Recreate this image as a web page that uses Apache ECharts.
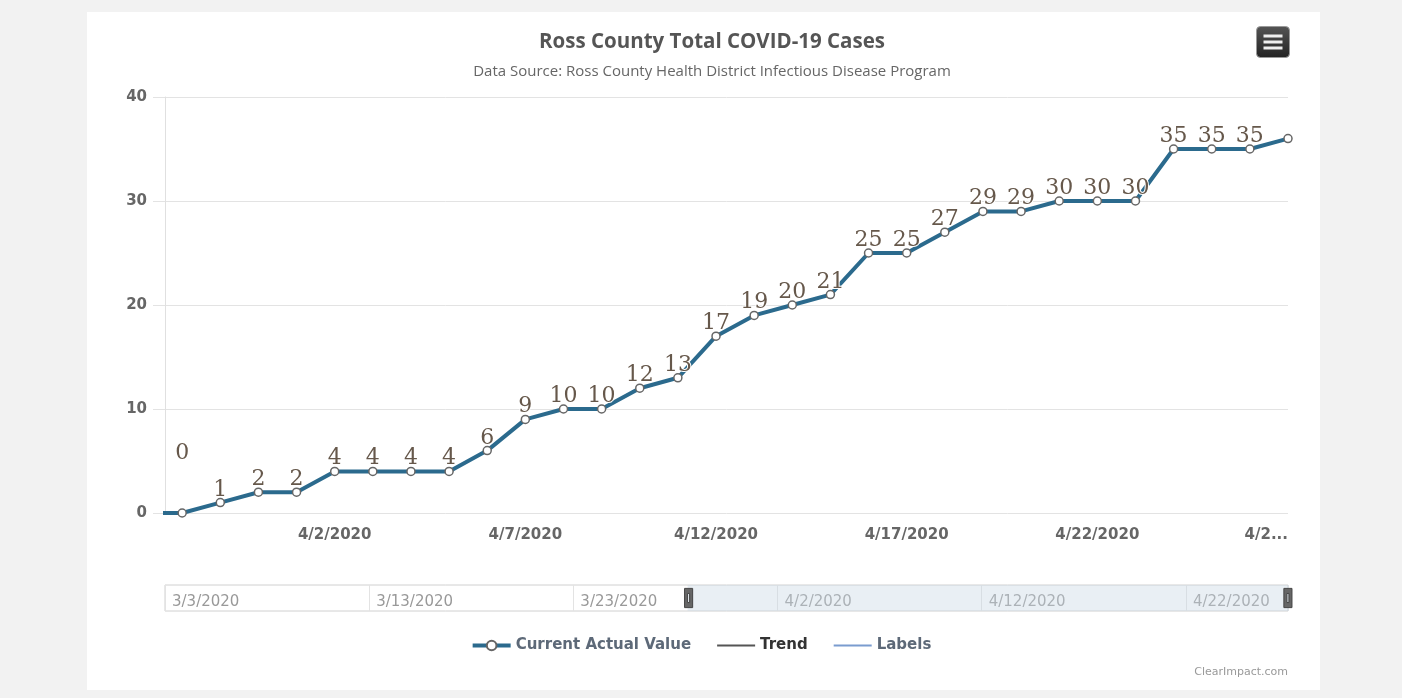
<!DOCTYPE html>
<html>
<head>
<meta charset="utf-8">
<script src="https://cdn.jsdelivr.net/npm/echarts@6/dist/echarts.min.js"></script>
<style>
  html, body { margin: 0; padding: 0; background: #f2f2f2; }
  .card { position: absolute; left: 87px; top: 12px; width: 1233px; height: 678px; background: #fff; }
  #chart { position: absolute; left: 0; top: 0; width: 1402px; height: 698px; }
</style>
</head>
<body>
<div class="card"></div>
<div id="chart"></div>
<script>
// daily totals (3/28 is the last day before the visible window)
const dates = [
  "2020-03-28", "2020-03-29", "2020-03-30", "2020-03-31", "2020-04-01", "2020-04-02",
  "2020-04-03", "2020-04-04", "2020-04-05", "2020-04-06", "2020-04-07", "2020-04-08",
  "2020-04-09", "2020-04-10", "2020-04-11", "2020-04-12", "2020-04-13", "2020-04-14",
  "2020-04-15", "2020-04-16", "2020-04-17", "2020-04-18", "2020-04-19", "2020-04-20",
  "2020-04-21", "2020-04-22", "2020-04-23", "2020-04-24", "2020-04-25", "2020-04-26",
  "2020-04-27"
];
const cases = [
  0, 0, 1, 2, 2, 4,
  4, 4, 4, 6, 9, 10,
  10, 12, 13, 17, 19, 20,
  21, 25, 25, 27, 29, 29,
  30, 30, 30, 35, 35, 35,
  36
];
const mainTicks = ["2020-04-02", "2020-04-07", "2020-04-12", "2020-04-17", "2020-04-22", "2020-04-27"];
const navTicks = ["2020-03-03", "2020-03-13", "2020-03-23", "2020-04-02", "2020-04-12", "2020-04-22"];
const rangeStart = "2020-03-03";
const rangeEnd = "2020-04-27";
const yTicks = [0, 10, 20, 30, 40];

// dates as day numbers (UTC) so a plain value axis can carry them
const DAY = 86400000;
function dn(s) {
  const p = s.split("-").map(Number);
  return Date.UTC(p[0], p[1] - 1, p[2]) / DAY;
}
function fmt(v) {
  const d = new Date(Math.round(v) * DAY);
  return (d.getUTCMonth() + 1) + "/" + d.getUTCDate() + "/" + d.getUTCFullYear();
}

const lastTick = dn(mainTicks[mainTicks.length - 1]);

const actual = dates.map((d, i) => {
  const item = { value: [dn(d), cases[i]] };
  // the first visible label sits higher in the original
  if (i === 1) item.label = { offset: [0, -47] };
  return item;
});

// plain line legend icon (moveTo corners keep the box at full item size)
const lineIcon = "path://M0,0 M38,12 M0,5 L38,5 L38,7 L0,7 Z";

const chart = echarts.init(document.getElementById("chart"), null, { renderer: "canvas" });

const option = {
  backgroundColor: "transparent",
  animation: false,
  title: {
    text: "Ross County Total COVID-19 Cases",
    subtext: "Data Source: Ross County Health District Infectious Disease Program",
    left: 707,
    textAlign: "center",
    top: 27,
    itemGap: 11,
    textStyle: { fontFamily: "Open Sans", fontWeight: "bold", fontSize: 20.5, color: "#555" },
    subtextStyle: { fontFamily: "Open Sans", fontSize: 15, color: "#666" }
  },
  legend: {
    top: 633,
    left: "center",
    itemWidth: 38,
    itemHeight: 12,
    itemGap: 26,
    lineStyle: { width: "inherit" },
    textStyle: { fontFamily: "DejaVu Sans", fontWeight: "bold", fontSize: 15, color: "#5d6978" },
    data: [
      { name: "Current Actual Value" },
      { name: "Trend", icon: lineIcon, textStyle: { color: "#333" } },
      { name: "Labels", icon: lineIcon }
    ]
  },
  grid: [
    { left: 165, right: 114, top: 97, bottom: 185 },
    { left: 165, right: 114, top: 585, height: 26, show: true, borderColor: "#d0d0d0", borderWidth: 1 }
  ],
  xAxis: [
    {
      type: "value",
      gridIndex: 0,
      min: dn(rangeStart),
      max: dn(rangeEnd),
      axisLine: { show: false },
      axisTick: { show: false },
      splitLine: { show: false },
      axisLabel: {
        customValues: mainTicks.map(dn),
        formatter: v => (Math.abs(v - lastTick) < 0.5 ? fmt(v).slice(0, 3) + "..." : fmt(v)),
        alignMaxLabel: "right",
        fontFamily: "DejaVu Sans",
        fontWeight: "bold",
        fontSize: 15,
        color: "#666",
        margin: 15
      }
    },
    {
      type: "value",
      gridIndex: 1,
      min: dn(rangeStart),
      max: dn(rangeEnd),
      axisLine: { show: false },
      splitLine: { show: false },
      axisTick: {
        show: true,
        inside: true,
        length: 26,
        customValues: navTicks.map(dn),
        lineStyle: { color: "#e3e3e3" }
      },
      axisLabel: {
        inside: true,
        customValues: navTicks.map(dn),
        formatter: v => fmt(v),
        align: "left",
        padding: [0, 0, 0, 7],
        margin: 1,
        fontFamily: "DejaVu Sans",
        fontSize: 15,
        color: "#999"
      }
    }
  ],
  yAxis: [
    {
      type: "value",
      gridIndex: 0,
      min: yTicks[0],
      max: yTicks[yTicks.length - 1],
      interval: 10,
      axisLine: { show: true, lineStyle: { color: "#e0e0e0" } },
      axisTick: { show: true, length: 12, lineStyle: { color: "#e3e3e3" } },
      splitLine: { lineStyle: { color: "#e3e3e3" } },
      axisLabel: {
        fontFamily: "DejaVu Sans",
        fontWeight: "bold",
        fontSize: 15,
        color: "#666",
        margin: 18
      }
    },
    { type: "value", gridIndex: 1, show: false, min: 0, max: 1 }
  ],
  dataZoom: [
    {
      type: "slider",
      xAxisIndex: 0,
      filterMode: "none",
      startValue: dn("2020-03-28") + 0.55,
      endValue: dn(rangeEnd),
      left: 165,
      right: 114,
      top: 585,
      height: 26,
      backgroundColor: "transparent",
      borderColor: "transparent",
      fillerColor: "rgba(200,214,228,0.4)",
      showDetail: false,
      showDataShadow: false,
      brushSelect: false,
      moveHandleSize: 0,
      handleIcon: "path://M0,0 L8,0 L8,19 L0,19 Z M3,5 L3,14 L5,14 L5,5 Z",
      handleSize: "74%",
      handleStyle: { color: "#666", borderColor: "#444", borderWidth: 1 },
      dataBackground: { lineStyle: { opacity: 0 }, areaStyle: { opacity: 0 } },
      selectedDataBackground: { lineStyle: { opacity: 0 }, areaStyle: { opacity: 0 } }
    }
  ],
  series: [
    {
      name: "Current Actual Value",
      type: "line",
      xAxisIndex: 0,
      yAxisIndex: 0,
      color: "#2b6a8d",
      data: actual,
      symbol: "circle",
      symbolSize: 8,
      showAllSymbol: true,
      clip: true,
      lineStyle: { color: "#2b6a8d", width: 4 },
      itemStyle: { color: "#fff", borderColor: "#666", borderWidth: 1.5 },
      label: {
        show: true,
        position: "top",
        distance: -3,
        fontFamily: "DejaVu Serif",
        fontSize: 22,
        color: "#66584b",
        textBorderColor: "#fff",
        textBorderWidth: 2,
        formatter: p => (p.dataIndex === 0 || p.dataIndex === dates.length - 1 ? "" : String(p.value[1]))
      },
      z: 3
    },
    {
      name: "Trend",
      type: "line",
      xAxisIndex: 0,
      yAxisIndex: 0,
      color: "#555",
      symbol: "none",
      lineStyle: { color: "#555", width: 2 },
      data: []
    },
    {
      name: "Labels",
      type: "line",
      xAxisIndex: 0,
      yAxisIndex: 0,
      color: "#7a9ccf",
      symbol: "none",
      lineStyle: { color: "#7a9ccf", width: 2 },
      data: []
    }
  ],
  graphic: [
    {
      type: "group",
      right: 112,
      top: 26,
      children: [
        {
          type: "rect",
          shape: { x: 0, y: 0, width: 33, height: 31, r: 4 },
          style: {
            fill: new echarts.graphic.LinearGradient(0, 0, 0, 1, [
              { offset: 0, color: "#555" },
              { offset: 1, color: "#222" }
            ]),
            stroke: "#999",
            lineWidth: 1
          }
        },
        { type: "rect", shape: { x: 7, y: 8, width: 19, height: 3 }, style: { fill: "#eee" } },
        { type: "rect", shape: { x: 7, y: 14, width: 19, height: 3 }, style: { fill: "#eee" } },
        { type: "rect", shape: { x: 7, y: 20, width: 19, height: 3 }, style: { fill: "#eee" } }
      ]
    },
    {
      type: "text",
      right: 114,
      top: 667,
      style: { text: "ClearImpact.com", fill: "#999", font: "11px 'DejaVu Sans'" }
    }
  ]
};

chart.setOption(option);
</script>
</body>
</html>
